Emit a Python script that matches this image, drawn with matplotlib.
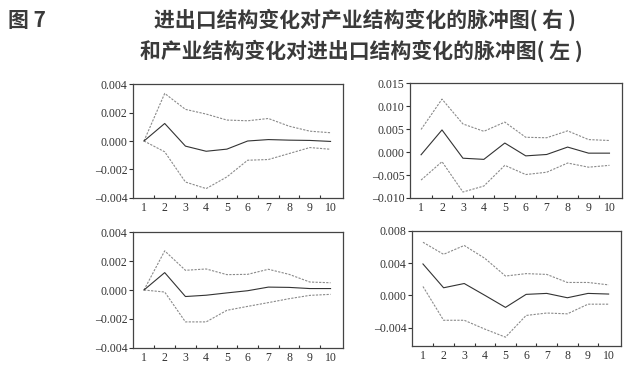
import numpy as np
import matplotlib
matplotlib.use('Agg')
from matplotlib import pyplot as plt

# periods
periods = [1, 2, 3, 4, 5, 6, 7, 8, 9, 10]

# top left panel
tl_mid = [0.0, 0.00123, -0.00036, -0.00072, -0.00057, 0.0, 0.0001, 0.00006, 0.00004, -0.00003]
tl_up = [0.0, 0.00334, 0.00222, 0.00189, 0.00147, 0.00142, 0.00158, 0.00104, 0.00069, 0.00058]
tl_lo = [0.0, -0.00076, -0.00288, -0.00334, -0.00252, -0.00135, -0.0013, -0.00088, -0.00046, -0.00058]

# top right panel
tr_mid = [-0.0006, 0.0048, -0.00135, -0.0016, 0.00195, -0.00084, -0.00054, 0.00107, -0.00025, -0.00025]
tr_up = [0.0049, 0.0115, 0.0061, 0.0045, 0.0065, 0.0032, 0.0031, 0.0046, 0.0027, 0.0025]
tr_lo = [-0.0061, -0.0021, -0.0087, -0.0074, -0.0029, -0.0049, -0.0044, -0.0024, -0.0033, -0.0029]

# bottom left panel
bl_mid = [0.0, 0.0012, -0.00045, -0.00036, -0.0002, -0.00005, 0.0002, 0.00018, 0.0001, 0.0001]
bl_up = [0.0, 0.0027, 0.00136, 0.00145, 0.00106, 0.00108, 0.00143, 0.00108, 0.00055, 0.0005]
bl_lo = [0.0, -0.00014, -0.0022, -0.0022, -0.0014, -0.00113, -0.00087, -0.0006, -0.00037, -0.0003]

# bottom right panel
br_mid = [0.0039, 0.00094, 0.00147, 0.0, -0.0015, 0.00012, 0.00024, -0.0003, 0.00024, 0.00016]
br_up = [0.0066, 0.0051, 0.0062, 0.0046, 0.0024, 0.0027, 0.0026, 0.0016, 0.0016, 0.0013]
br_lo = [0.0011, -0.0031, -0.0031, -0.0042, -0.0052, -0.0025, -0.0022, -0.0023, -0.0011, -0.0011]

fig = plt.figure(figsize=(6.44, 3.67), dpi=100)

def panel(rect, mid, up, lo, yticks, ylim, fmt):
    ax = fig.add_axes(rect)
    ax.plot(periods, up, color='#8a8a8a', lw=0.8, ls=(0, (2, 1.2)))
    ax.plot(periods, lo, color='#8a8a8a', lw=0.8, ls=(0, (2, 1.2)))
    ax.plot(periods, mid, color='#333333', lw=0.8)
    ax.set_xlim(0.47, 10.6)
    ax.set_ylim(*ylim)
    ax.set_yticks(yticks)
    ax.set_yticklabels([fmt % v if v >= 0 else '\u2013' + fmt % (-v) for v in yticks])
    ax.set_xticks(np.arange(1.5, 10.5, 1.0))
    ax.set_xticklabels([])
    ax.set_xticks(periods, minor=True)
    ax.set_xticklabels([str(p) for p in periods], minor=True)
    ax.tick_params(axis='x', which='major', direction='in', length=2.5, width=0.8, color='#333333')
    ax.tick_params(axis='x', which='minor', length=0, pad=3)
    ax.tick_params(axis='y', direction='out', length=3, width=0.8, color='#333333', pad=1)
    for lab in ax.get_xticklabels(minor=True) + ax.get_yticklabels():
        lab.set_fontfamily('Liberation Serif')
        lab.set_fontsize(8.5)
        lab.set_color('#333333')
    for s in ax.spines.values():
        s.set_linewidth(0.9)
        s.set_color('#444444')
    return ax

panel([0.2065, 0.4605, 0.3261, 0.3106], tl_mid, tl_up, tl_lo,
      [-0.004, -0.002, 0.0, 0.002, 0.004], (-0.004, 0.004), '%.3f')
panel([0.6366, 0.4605, 0.3293, 0.3133], tr_mid, tr_up, tr_lo,
      [-0.010, -0.005, 0.0, 0.005, 0.010, 0.015], (-0.010, 0.015), '%.3f')
panel([0.2065, 0.0518, 0.3261, 0.316], bl_mid, bl_up, bl_lo,
      [-0.004, -0.002, 0.0, 0.002, 0.004], (-0.004, 0.004), '%.3f')
panel([0.6398, 0.0572, 0.3245, 0.3134], br_mid, br_up, br_lo,
      [-0.004, 0.0, 0.004, 0.008], (-0.0063, 0.008), '%.3f')

title_font = ['Noto Sans CJK SC', 'DejaVu Sans']
fig.text(0.013, 0.945, '图 7', fontsize=15, fontfamily=title_font,
         fontweight='bold', color='#3a3a3a', va='center')
fig.text(0.567, 0.945, '进出口结构变化对产业结构变化的脉冲图( 右 )', fontsize=15,
         fontfamily=title_font, fontweight='bold', color='#3a3a3a', ha='center', va='center')
fig.text(0.561, 0.862, '和产业结构变化对进出口结构变化的脉冲图( 左 )', fontsize=15,
         fontfamily=title_font, fontweight='bold', color='#3a3a3a', ha='center', va='center')

fig.savefig('out.png', dpi=100)
